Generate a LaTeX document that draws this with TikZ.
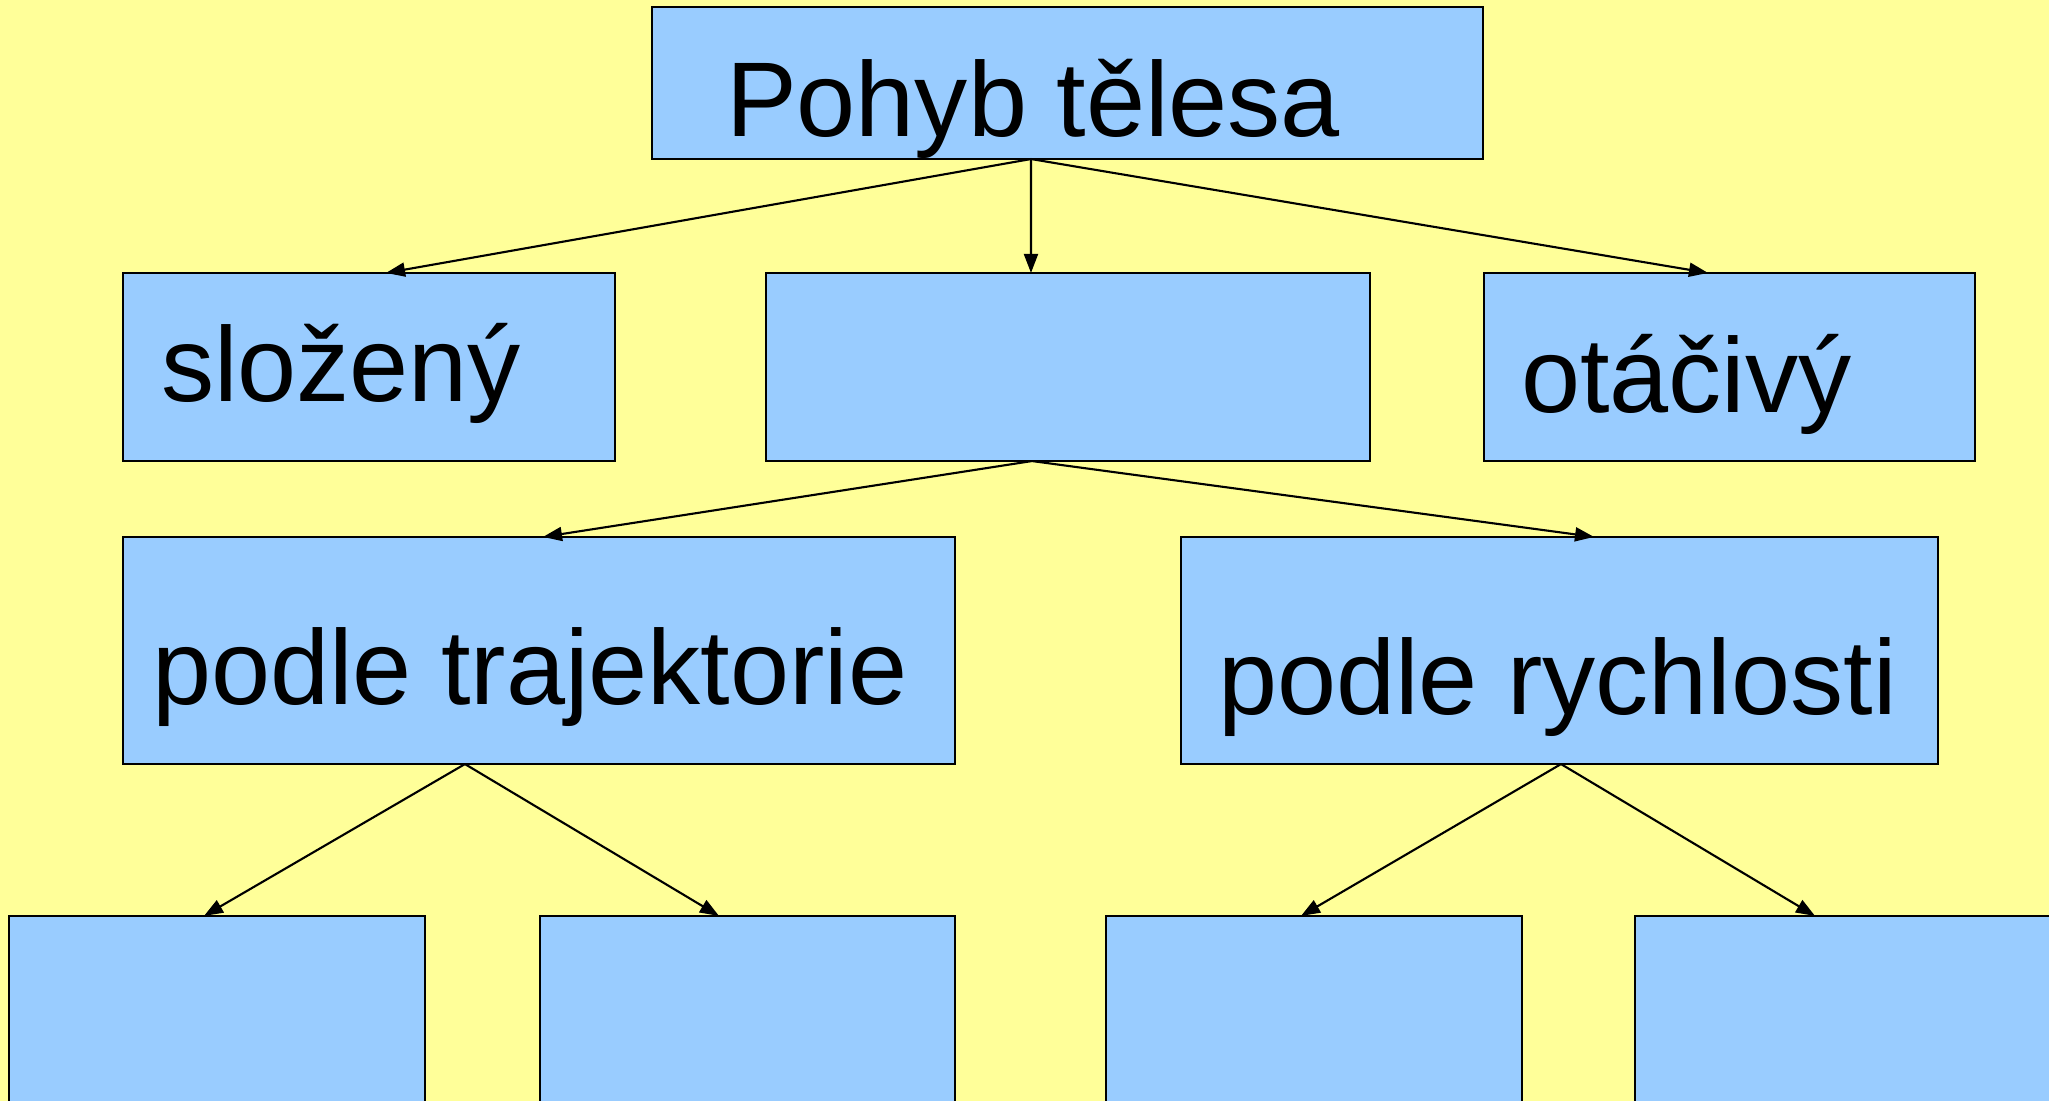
\documentclass[tikz,border=0pt]{standalone}
\usepackage{fontspec}
\setmainfont{Liberation Sans}
\usetikzlibrary{arrows.meta}
\definecolor{pagebg}{HTML}{FFFF99}
\definecolor{boxfill}{HTML}{99CCFF}
\tikzset{
  box/.style={draw=black, fill=boxfill, line width=0.7pt, rectangle,
              inner sep=0pt, outer sep=0pt},
  lbl/.style={anchor=base west, inner sep=0pt, outer sep=0pt,
              font=\fontsize{30.2pt}{36pt}\selectfont},
  link/.style={draw=black, line width=0.6pt,
               -{Triangle[length=0.19cm, width=0.14cm]}},
}
\begin{document}
\begin{tikzpicture}[x=0.01cm, y=-0.01cm]
  % page area and background
  \clip (0,0) rectangle (2049,1101);
  \fill[pagebg] (0,0) rectangle (2049,1101);

  % boxes
  \node[box, minimum width=8.31cm, minimum height=1.52cm] (top)  at (1067.5,83) {};
  \node[box, minimum width=4.92cm, minimum height=1.88cm] (slo)  at (369,367) {};
  \node[box, minimum width=6.04cm, minimum height=1.88cm] (mid)  at (1068,367) {};
  \node[box, minimum width=4.91cm, minimum height=1.88cm] (ota)  at (1729.5,367) {};
  \node[box, minimum width=8.32cm, minimum height=2.27cm] (traj) at (539,650.5) {};
  \node[box, minimum width=7.57cm, minimum height=2.27cm] (rych) at (1559.5,650.5) {};
  \node[box, minimum width=4.16cm, minimum height=2.34cm] (b1) at (217,1033) {};
  \node[box, minimum width=4.15cm, minimum height=2.34cm] (b2) at (747.5,1033) {};
  \node[box, minimum width=4.16cm, minimum height=2.34cm] (b3) at (1314,1033) {};
  \node[box, minimum width=4.16cm, minimum height=2.34cm] (b4) at (1843,1033) {};

  % labels
  \node[lbl] (tTop)  at (726,137) {Pohyb tělesa};
  \node[lbl] (tSlo)  at (161,402) {složený};
  \node[lbl] (tOta)  at (1521,413) {otáčivý};
  \node[lbl] (tTraj) at (152,705) {podle trajektorie};
  \node[lbl] (tRych) at (1218,715) {podle rychlosti};

  % connector end points
  \coordinate (topOut)  at ([xshift=-0.365cm]top.south);
  \coordinate (sloIn)   at ([xshift=0.17cm]slo.north);
  \coordinate (midIn)   at ([xshift=-0.37cm]mid.north);
  \coordinate (otaIn)   at ([xshift=-0.215cm]ota.north);
  \coordinate (midOut)  at ([xshift=-0.36cm]mid.south);
  \coordinate (trajIn)  at ([xshift=0.04cm]traj.north);
  \coordinate (rychIn)  at ([xshift=0.345cm]rych.north);
  \coordinate (trajOut) at ([xshift=-0.74cm]traj.south);
  \coordinate (b1In)    at ([xshift=-0.13cm]b1.north);
  \coordinate (b2In)    at ([xshift=-0.285cm]b2.north);
  \coordinate (rychOut) at ([xshift=0.015cm]rych.south);
  \coordinate (b3In)    at ([xshift=-0.13cm]b3.north);
  \coordinate (b4In)    at ([xshift=-0.28cm]b4.north);

  % connectors
  \draw[link] (topOut) -- (sloIn);
  \draw[link] (topOut) -- (midIn);
  \draw[link] (topOut) -- (otaIn);
  \draw[link] (midOut) -- (trajIn);
  \draw[link] (midOut) -- (rychIn);
  \draw[link] (trajOut) -- (b1In);
  \draw[link] (trajOut) -- (b2In);
  \draw[link] (rychOut) -- (b3In);
  \draw[link] (rychOut) -- (b4In);
\end{tikzpicture}
\end{document}
